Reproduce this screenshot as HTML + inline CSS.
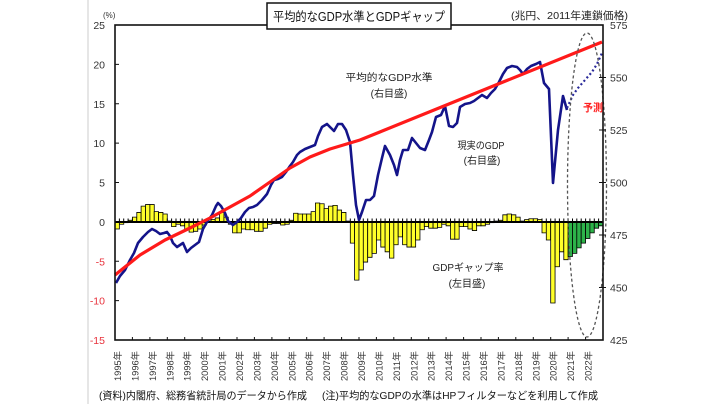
<!DOCTYPE html>
<html><head><meta charset="utf-8">
<style>
html,body{margin:0;padding:0;background:#fff;}
svg{display:block;}
text{font-family:"Liberation Sans","Noto Sans CJK JP",sans-serif;}
</style></head>
<body>
<svg width="720" height="404" viewBox="0 0 720 404" xmlns="http://www.w3.org/2000/svg">
<rect width="720" height="404" fill="#fff"/>
<line x1="88" y1="0" x2="88" y2="404" stroke="#dedede" stroke-width="1.5"/>

<!-- bars -->
<g transform="translate(0,221.875) scale(1,-7.875)" stroke="#000" stroke-width="0.8" fill="#ffff2a">
<rect vector-effect="non-scaling-stroke" x="115.0" y="-0.9" width="4.36" height="0.9"/>
<rect vector-effect="non-scaling-stroke" x="119.4" y="-0.3" width="4.36" height="0.3"/>
<rect vector-effect="non-scaling-stroke" x="123.7" y="-0.1" width="4.36" height="0.1"/>
<rect vector-effect="non-scaling-stroke" x="128.1" y="0" width="4.36" height="0.2"/>
<rect vector-effect="non-scaling-stroke" x="132.4" y="0" width="4.36" height="0.6"/>
<rect vector-effect="non-scaling-stroke" x="136.8" y="0" width="4.36" height="1.2"/>
<rect vector-effect="non-scaling-stroke" x="141.1" y="0" width="4.36" height="2.0"/>
<rect vector-effect="non-scaling-stroke" x="145.5" y="0" width="4.36" height="2.2"/>
<rect vector-effect="non-scaling-stroke" x="149.9" y="0" width="4.36" height="2.2"/>
<rect vector-effect="non-scaling-stroke" x="154.2" y="0" width="4.36" height="1.3"/>
<rect vector-effect="non-scaling-stroke" x="158.6" y="0" width="4.36" height="1.2"/>
<rect vector-effect="non-scaling-stroke" x="162.9" y="0" width="4.36" height="1.0"/>
<rect vector-effect="non-scaling-stroke" x="167.3" y="0" width="4.36" height="0.1"/>
<rect vector-effect="non-scaling-stroke" x="171.6" y="-0.6" width="4.36" height="0.6"/>
<rect vector-effect="non-scaling-stroke" x="176.0" y="-0.3" width="4.36" height="0.3"/>
<rect vector-effect="non-scaling-stroke" x="180.4" y="-0.5" width="4.36" height="0.5"/>
<rect vector-effect="non-scaling-stroke" x="184.7" y="-0.9" width="4.36" height="0.9"/>
<rect vector-effect="non-scaling-stroke" x="189.1" y="-1.3" width="4.36" height="1.3"/>
<rect vector-effect="non-scaling-stroke" x="193.4" y="-1.2" width="4.36" height="1.2"/>
<rect vector-effect="non-scaling-stroke" x="197.8" y="-0.9" width="4.36" height="0.9"/>
<rect vector-effect="non-scaling-stroke" x="202.1" y="-0.4" width="4.36" height="0.4"/>
<rect vector-effect="non-scaling-stroke" x="210.9" y="0" width="4.36" height="0.3"/>
<rect vector-effect="non-scaling-stroke" x="215.2" y="0" width="4.36" height="0.5"/>
<rect vector-effect="non-scaling-stroke" x="219.6" y="0" width="4.36" height="1.2"/>
<rect vector-effect="non-scaling-stroke" x="223.9" y="0" width="4.36" height="0.6"/>
<rect vector-effect="non-scaling-stroke" x="228.3" y="-0.3" width="4.36" height="0.3"/>
<rect vector-effect="non-scaling-stroke" x="232.6" y="-1.4" width="4.36" height="1.4"/>
<rect vector-effect="non-scaling-stroke" x="237.0" y="-1.4" width="4.36" height="1.4"/>
<rect vector-effect="non-scaling-stroke" x="241.4" y="-0.9" width="4.36" height="0.9"/>
<rect vector-effect="non-scaling-stroke" x="245.7" y="-1.0" width="4.36" height="1.0"/>
<rect vector-effect="non-scaling-stroke" x="250.1" y="-1.0" width="4.36" height="1.0"/>
<rect vector-effect="non-scaling-stroke" x="254.4" y="-1.2" width="4.36" height="1.2"/>
<rect vector-effect="non-scaling-stroke" x="258.8" y="-1.2" width="4.36" height="1.2"/>
<rect vector-effect="non-scaling-stroke" x="263.1" y="-0.8" width="4.36" height="0.8"/>
<rect vector-effect="non-scaling-stroke" x="267.5" y="-0.3" width="4.36" height="0.3"/>
<rect vector-effect="non-scaling-stroke" x="271.9" y="-0.2" width="4.36" height="0.2"/>
<rect vector-effect="non-scaling-stroke" x="276.2" y="-0.2" width="4.36" height="0.2"/>
<rect vector-effect="non-scaling-stroke" x="280.6" y="-0.4" width="4.36" height="0.4"/>
<rect vector-effect="non-scaling-stroke" x="284.9" y="-0.3" width="4.36" height="0.3"/>
<rect vector-effect="non-scaling-stroke" x="289.3" y="0" width="4.36" height="0.2"/>
<rect vector-effect="non-scaling-stroke" x="293.6" y="0" width="4.36" height="1.1"/>
<rect vector-effect="non-scaling-stroke" x="298.0" y="0" width="4.36" height="1.0"/>
<rect vector-effect="non-scaling-stroke" x="302.4" y="0" width="4.36" height="1.0"/>
<rect vector-effect="non-scaling-stroke" x="306.7" y="0" width="4.36" height="1.0"/>
<rect vector-effect="non-scaling-stroke" x="311.1" y="0" width="4.36" height="1.3"/>
<rect vector-effect="non-scaling-stroke" x="315.4" y="0" width="4.36" height="2.4"/>
<rect vector-effect="non-scaling-stroke" x="319.8" y="0" width="4.36" height="2.3"/>
<rect vector-effect="non-scaling-stroke" x="324.1" y="0" width="4.36" height="1.7"/>
<rect vector-effect="non-scaling-stroke" x="328.5" y="0" width="4.36" height="2.0"/>
<rect vector-effect="non-scaling-stroke" x="332.9" y="0" width="4.36" height="2.1"/>
<rect vector-effect="non-scaling-stroke" x="337.2" y="0" width="4.36" height="1.5"/>
<rect vector-effect="non-scaling-stroke" x="341.6" y="0" width="4.36" height="1.2"/>
<rect vector-effect="non-scaling-stroke" x="345.9" y="0" width="4.36" height="0.1"/>
<rect vector-effect="non-scaling-stroke" x="350.3" y="-2.7" width="4.36" height="2.7"/>
<rect vector-effect="non-scaling-stroke" x="354.6" y="-7.4" width="4.36" height="7.4"/>
<rect vector-effect="non-scaling-stroke" x="359.0" y="-6.1" width="4.36" height="6.1"/>
<rect vector-effect="non-scaling-stroke" x="363.3" y="-5.1" width="4.36" height="5.1"/>
<rect vector-effect="non-scaling-stroke" x="367.7" y="-4.5" width="4.36" height="4.5"/>
<rect vector-effect="non-scaling-stroke" x="372.1" y="-4.0" width="4.36" height="4.0"/>
<rect vector-effect="non-scaling-stroke" x="376.4" y="-2.3" width="4.36" height="2.3"/>
<rect vector-effect="non-scaling-stroke" x="380.8" y="-3.2" width="4.36" height="3.2"/>
<rect vector-effect="non-scaling-stroke" x="385.1" y="-3.8" width="4.36" height="3.8"/>
<rect vector-effect="non-scaling-stroke" x="389.5" y="-4.6" width="4.36" height="4.6"/>
<rect vector-effect="non-scaling-stroke" x="393.8" y="-2.9" width="4.36" height="2.9"/>
<rect vector-effect="non-scaling-stroke" x="398.2" y="-1.9" width="4.36" height="1.9"/>
<rect vector-effect="non-scaling-stroke" x="402.6" y="-2.9" width="4.36" height="2.9"/>
<rect vector-effect="non-scaling-stroke" x="406.9" y="-3.2" width="4.36" height="3.2"/>
<rect vector-effect="non-scaling-stroke" x="411.3" y="-3.2" width="4.36" height="3.2"/>
<rect vector-effect="non-scaling-stroke" x="415.6" y="-2.3" width="4.36" height="2.3"/>
<rect vector-effect="non-scaling-stroke" x="420.0" y="-1.0" width="4.36" height="1.0"/>
<rect vector-effect="non-scaling-stroke" x="424.3" y="-0.6" width="4.36" height="0.6"/>
<rect vector-effect="non-scaling-stroke" x="428.7" y="-0.8" width="4.36" height="0.8"/>
<rect vector-effect="non-scaling-stroke" x="433.1" y="-0.8" width="4.36" height="0.8"/>
<rect vector-effect="non-scaling-stroke" x="437.4" y="-0.7" width="4.36" height="0.7"/>
<rect vector-effect="non-scaling-stroke" x="441.8" y="-0.3" width="4.36" height="0.3"/>
<rect vector-effect="non-scaling-stroke" x="446.1" y="-0.5" width="4.36" height="0.5"/>
<rect vector-effect="non-scaling-stroke" x="450.5" y="-2.2" width="4.36" height="2.2"/>
<rect vector-effect="non-scaling-stroke" x="454.8" y="-2.2" width="4.36" height="2.2"/>
<rect vector-effect="non-scaling-stroke" x="459.2" y="-0.6" width="4.36" height="0.6"/>
<rect vector-effect="non-scaling-stroke" x="463.6" y="-0.6" width="4.36" height="0.6"/>
<rect vector-effect="non-scaling-stroke" x="467.9" y="-0.9" width="4.36" height="0.9"/>
<rect vector-effect="non-scaling-stroke" x="472.3" y="-1.1" width="4.36" height="1.1"/>
<rect vector-effect="non-scaling-stroke" x="476.6" y="-0.5" width="4.36" height="0.5"/>
<rect vector-effect="non-scaling-stroke" x="481.0" y="-0.5" width="4.36" height="0.5"/>
<rect vector-effect="non-scaling-stroke" x="485.3" y="-0.3" width="4.36" height="0.3"/>
<rect vector-effect="non-scaling-stroke" x="489.7" y="-0.1" width="4.36" height="0.1"/>
<rect vector-effect="non-scaling-stroke" x="494.1" y="0" width="4.36" height="0.1"/>
<rect vector-effect="non-scaling-stroke" x="498.4" y="0" width="4.36" height="0.2"/>
<rect vector-effect="non-scaling-stroke" x="502.8" y="0" width="4.36" height="0.9"/>
<rect vector-effect="non-scaling-stroke" x="507.1" y="0" width="4.36" height="1.0"/>
<rect vector-effect="non-scaling-stroke" x="511.5" y="0" width="4.36" height="0.9"/>
<rect vector-effect="non-scaling-stroke" x="515.8" y="0" width="4.36" height="0.6"/>
<rect vector-effect="non-scaling-stroke" x="520.2" y="0" width="4.36" height="0.1"/>
<rect vector-effect="non-scaling-stroke" x="524.6" y="0" width="4.36" height="0.3"/>
<rect vector-effect="non-scaling-stroke" x="528.9" y="0" width="4.36" height="0.4"/>
<rect vector-effect="non-scaling-stroke" x="533.3" y="0" width="4.36" height="0.4"/>
<rect vector-effect="non-scaling-stroke" x="537.6" y="0" width="4.36" height="0.3"/>
<rect vector-effect="non-scaling-stroke" x="542.0" y="-1.4" width="4.36" height="1.4"/>
<rect vector-effect="non-scaling-stroke" x="546.3" y="-2.3" width="4.36" height="2.3"/>
<rect vector-effect="non-scaling-stroke" x="550.7" y="-10.3" width="4.36" height="10.3"/>
<rect vector-effect="non-scaling-stroke" x="555.1" y="-5.7" width="4.36" height="5.7"/>
<rect vector-effect="non-scaling-stroke" x="559.4" y="-3.8" width="4.36" height="3.8"/>
<rect vector-effect="non-scaling-stroke" x="563.8" y="-4.8" width="4.36" height="4.8"/>
<g fill="#2db34a">
<rect vector-effect="non-scaling-stroke" x="568.1" y="-4.4" width="4.36" height="4.4"/>
<rect vector-effect="non-scaling-stroke" x="572.5" y="-4.0" width="4.36" height="4.0"/>
<rect vector-effect="non-scaling-stroke" x="576.8" y="-3.3" width="4.36" height="3.3"/>
<rect vector-effect="non-scaling-stroke" x="581.2" y="-2.7" width="4.36" height="2.7"/>
<rect vector-effect="non-scaling-stroke" x="585.6" y="-2.1" width="4.36" height="2.1"/>
<rect vector-effect="non-scaling-stroke" x="589.9" y="-1.4" width="4.36" height="1.4"/>
<rect vector-effect="non-scaling-stroke" x="594.3" y="-0.8" width="4.36" height="0.8"/>
<rect vector-effect="non-scaling-stroke" x="598.6" y="-0.5" width="4.36" height="0.5"/>
</g>
</g>

<!-- zero line with quarter ticks -->
<line x1="115" y1="222" x2="603" y2="222" stroke="#000" stroke-width="2"/>
<path d="M115,222V218.5 M119.4,222V218.5 M123.7,222V218.5 M128.1,222V218.5 M132.4,222V218.5 M167.3,222V218.5 M171.6,222V218.5 M176,222V218.5 M180.4,222V218.5 M184.7,222V218.5 M189.1,222V218.5 M193.4,222V218.5 M197.8,222V218.5 M202.1,222V218.5 M206.5,222V218.5 M210.9,222V218.5 M228.3,222V218.5 M232.6,222V218.5 M237,222V218.5 M241.4,222V218.5 M245.7,222V218.5 M250.1,222V218.5 M254.4,222V218.5 M258.8,222V218.5 M263.1,222V218.5 M267.5,222V218.5 M271.9,222V218.5 M276.2,222V218.5 M280.6,222V218.5 M284.9,222V218.5 M289.3,222V218.5 M350.3,222V218.5 M354.6,222V218.5 M359,222V218.5 M363.3,222V218.5 M367.7,222V218.5 M372.1,222V218.5 M376.4,222V218.5 M380.8,222V218.5 M385.1,222V218.5 M389.5,222V218.5 M393.8,222V218.5 M398.2,222V218.5 M402.6,222V218.5 M406.9,222V218.5 M411.3,222V218.5 M415.6,222V218.5 M420,222V218.5 M424.3,222V218.5 M428.7,222V218.5 M433.1,222V218.5 M437.4,222V218.5 M441.8,222V218.5 M446.1,222V218.5 M450.5,222V218.5 M454.8,222V218.5 M459.2,222V218.5 M463.6,222V218.5 M467.9,222V218.5 M472.3,222V218.5 M476.6,222V218.5 M481,222V218.5 M485.3,222V218.5 M489.7,222V218.5 M494.1,222V218.5 M498.4,222V218.5 M542,222V218.5 M546.3,222V218.5 M550.7,222V218.5 M555.1,222V218.5 M559.4,222V218.5 M563.8,222V218.5 M568.1,222V218.5 M572.5,222V218.5 M576.8,222V218.5 M581.2,222V218.5 M585.6,222V218.5 M589.9,222V218.5 M594.3,222V218.5 M598.6,222V218.5" stroke="#000" stroke-width="1"/>

<!-- actual GDP (blue) -->
<polyline fill="none" stroke="#14148a" stroke-width="2.6" stroke-linejoin="round" points="116,283 120,276 125,270 130,260 134,253 138,243 143,237 148,232 152,229 156,231 160,234 164,233 167,232 170,236 173,243 177,247 180,245 183,243 187,252 191,248 195,245 199,242 203,229 207,222 212,215 216,206 218,203 221,206 225,213 228,221 233,225 237,222 241,218 245,212 249,208 253,207 257,205 262,200 267,194 271,185 274,180 278,179 282,177 286,172 290,166 293,162 297,155 300,152 305,149 310,147 315,145 318,136 322,127 327,124 331,128 334,131 338,124 342,124 346,130 350,142 353,175 356,205 359,220 362,212 366,200 370,200 374,196 378,175 382,158 385,146 390,155 394,165 397,175 400,160 403,150 408,150 412,138 416,143 420,148 425,150 429,140 432,132 436,117 441,115 445,106 449,126 453,127 457,123 460,107 465,104 470,103 474,101 478,98 482,95 487,98 491,93 495,89 499,82 503,74 507,68 512,66 517,67 520,70 523,74 527,69 531,66 536,64 540,62 544,83 549,89 553,183 558,130 563,96 567,110"/>
<!-- forecast (dotted blue) -->
<polyline fill="none" stroke="#2a2a9a" stroke-width="2.2" stroke-dasharray="2,2.5" points="567,108 573,95 578,88 585,80 592,72 597,64 602,53"/>

<!-- trend (red) -->
<polyline fill="none" stroke="#ff1a1a" stroke-width="3.2" stroke-linejoin="round" points="115,275 140,255 165,240 190,228 210,218 230,207 250,196 270,182 290,168 310,157 330,149 360,140 602,42"/>

<!-- dashed ellipse -->
<ellipse cx="587" cy="185" rx="19.5" ry="152" fill="none" stroke="#555" stroke-width="1.3" stroke-dasharray="3,2.5"/>

<!-- frame -->
<rect x="115" y="25" width="488" height="315" fill="none" stroke="#111" stroke-width="1.6"/>
<!-- left ticks -->
<path d="M115,25h4 M115,64.4h4 M115,103.8h4 M115,143.1h4 M115,182.5h4 M115,261.3h4 M115,300.6h4" stroke="#111" stroke-width="1"/>
<!-- right ticks -->
<path d="M599,77.5h7 M599,130h7 M599,182.5h7 M599,235h7 M599,287.5h7" stroke="#111" stroke-width="1"/>
<!-- bottom ticks -->
<path d="M132.4,340v-3 M149.9,340v-3 M167.3,340v-3 M184.7,340v-3 M202.1,340v-3 M219.6,340v-3 M237,340v-3 M254.4,340v-3 M271.9,340v-3 M289.3,340v-3 M306.7,340v-3 M324.1,340v-3 M341.6,340v-3 M359,340v-3 M376.4,340v-3 M393.8,340v-3 M411.3,340v-3 M428.7,340v-3 M446.1,340v-3 M463.6,340v-3 M481,340v-3 M498.4,340v-3 M515.8,340v-3 M533.3,340v-3 M550.7,340v-3 M568.1,340v-3 M585.6,340v-3" stroke="#111" stroke-width="1"/>

<!-- left axis labels -->
<g font-size="10.5" text-anchor="end">
<text x="105" y="29" fill="#333">25</text>
<text x="105" y="68.4" fill="#333">20</text>
<text x="105" y="107.8" fill="#333">15</text>
<text x="105" y="147.1" fill="#333">10</text>
<text x="105" y="186.5" fill="#333">5</text>
<text x="105" y="225.9" fill="#333">0</text>
<text x="105" y="265.3" fill="#e8323c">-5</text>
<text x="105" y="304.6" fill="#e8323c">-10</text>
<text x="105" y="344" fill="#e8323c">-15</text>
</g>
<text x="103" y="18" font-size="8" fill="#333">(%)</text>

<!-- right axis labels -->
<g font-size="10.5" fill="#333">
<text x="610" y="29">575</text>
<text x="610" y="81.5">550</text>
<text x="610" y="134">525</text>
<text x="610" y="186.5">500</text>
<text x="610" y="239">475</text>
<text x="610" y="291.5">450</text>
<text x="610" y="344">425</text>
</g>
<text x="511" y="19" font-size="10.5" fill="#222" textLength="117" lengthAdjust="spacingAndGlyphs">(兆円、2011年連鎖価格)</text>

<!-- year labels -->
<g font-size="9.3" fill="#333">
<text transform="translate(121,381) rotate(-90)">1995年</text>
<text transform="translate(138.4,381) rotate(-90)">1996年</text>
<text transform="translate(155.9,381) rotate(-90)">1997年</text>
<text transform="translate(173.3,381) rotate(-90)">1998年</text>
<text transform="translate(190.7,381) rotate(-90)">1999年</text>
<text transform="translate(208.1,381) rotate(-90)">2000年</text>
<text transform="translate(225.6,381) rotate(-90)">2001年</text>
<text transform="translate(243,381) rotate(-90)">2002年</text>
<text transform="translate(260.4,381) rotate(-90)">2003年</text>
<text transform="translate(277.9,381) rotate(-90)">2004年</text>
<text transform="translate(295.3,381) rotate(-90)">2005年</text>
<text transform="translate(312.7,381) rotate(-90)">2006年</text>
<text transform="translate(330.1,381) rotate(-90)">2007年</text>
<text transform="translate(347.6,381) rotate(-90)">2008年</text>
<text transform="translate(365,381) rotate(-90)">2009年</text>
<text transform="translate(382.4,381) rotate(-90)">2010年</text>
<text transform="translate(399.8,381) rotate(-90)">2011年</text>
<text transform="translate(417.3,381) rotate(-90)">2012年</text>
<text transform="translate(434.7,381) rotate(-90)">2013年</text>
<text transform="translate(452.1,381) rotate(-90)">2014年</text>
<text transform="translate(469.6,381) rotate(-90)">2015年</text>
<text transform="translate(487,381) rotate(-90)">2016年</text>
<text transform="translate(504.4,381) rotate(-90)">2017年</text>
<text transform="translate(521.8,381) rotate(-90)">2018年</text>
<text transform="translate(539.3,381) rotate(-90)">2019年</text>
<text transform="translate(556.7,381) rotate(-90)">2020年</text>
<text transform="translate(574.1,381) rotate(-90)">2021年</text>
<text transform="translate(591.6,381) rotate(-90)">2022年</text>
</g>

<!-- title box -->
<rect x="267" y="3" width="184" height="26" fill="#fff" stroke="#111" stroke-width="1.5"/>
<text x="273" y="21" font-size="12.5" fill="#111" textLength="172" lengthAdjust="spacingAndGlyphs">平均的なGDP水準とGDPギャップ</text>

<!-- annotations -->
<g font-size="10" fill="#222" text-anchor="middle">
<text x="389" y="81" textLength="87" lengthAdjust="spacingAndGlyphs">平均的なGDP水準</text>
<text x="389" y="97">(右目盛)</text>
<text x="481" y="149" textLength="47" lengthAdjust="spacingAndGlyphs">現実のGDP</text>
<text x="482" y="164">(右目盛)</text>
<text x="468" y="271" textLength="71" lengthAdjust="spacingAndGlyphs">GDPギャップ率</text>
<text x="467" y="287">(左目盛)</text>
</g>
<text x="583" y="111" font-size="10.5" font-weight="bold" fill="#ff2020" textLength="20" lengthAdjust="spacingAndGlyphs">予測</text>

<!-- footnotes -->
<text x="99" y="399" font-size="10.5" fill="#111" textLength="208" lengthAdjust="spacingAndGlyphs">(資料)内閣府、総務省統計局のデータから作成</text>
<text x="322" y="399" font-size="10.5" fill="#111" textLength="276" lengthAdjust="spacingAndGlyphs">(注)平均的なGDPの水準はHPフィルターなどを利用して作成</text>
</svg>
</body></html>
